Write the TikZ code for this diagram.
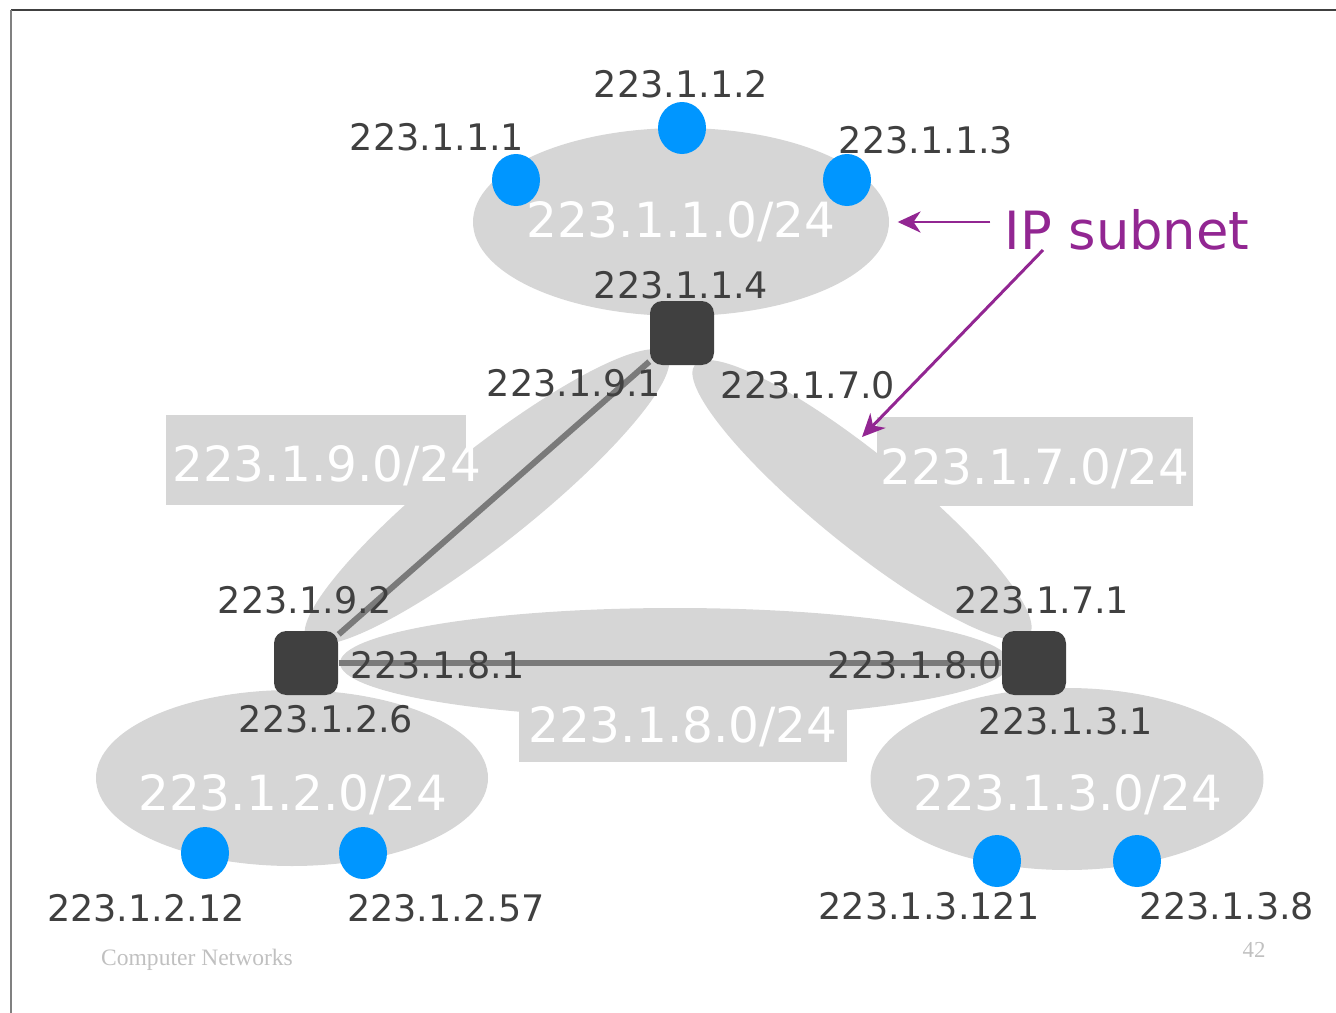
\documentclass[tikz,border=0pt]{standalone}
\usepackage{fontspec}
\setmainfont{DejaVu Sans}
\newfontfamily\footfont{Liberation Serif}
\usetikzlibrary{shapes.geometric,arrows.meta}

\definecolor{zonegray}{RGB}{214,214,214}
\definecolor{ipdark}{RGB}{64,64,64}
\definecolor{hostblue}{RGB}{0,150,255}
\definecolor{linkgray}{RGB}{122,122,122}
\definecolor{notepurple}{RGB}{146,38,146}
\definecolor{footgray}{RGB}{192,192,192}

\tikzset{
  zone/.style={ellipse, fill=zonegray, inner sep=0pt},
  router/.style={rectangle, rounded corners=3.5pt, fill=ipdark, minimum size=0.64cm, inner sep=0pt},
  host/.style={ellipse, fill=hostblue, minimum width=0.48cm, minimum height=0.52cm, inner sep=0pt},
  addr/.style={text=ipdark, font=\fontsize{10.4}{12}\selectfont, inner sep=1pt},
  netname/.style={text=white, font=\fontsize{13.8}{16}\selectfont, inner sep=1pt},
  link/.style={draw=linkgray, line width=1.7pt},
  notearrow/.style={draw=notepurple, line width=0.85pt, -{Stealth[length=6.5pt,width=6pt,inset=2pt]}},
}

\begin{document}
\begin{tikzpicture}[x=1cm, y=-1cm]
\useasboundingbox (0,0) rectangle (13.36,10.13);

% slide frame
\draw[ipdark, line width=0.6pt] (0.11,0.10) -- (13.36,0.10);
\draw[gray, line width=0.6pt] (0.11,0.10) -- (0.11,10.13);

% subnets
\node[zone, minimum width=4.16cm, minimum height=1.88cm] (net1) at (6.81,2.22) {};
\node[zone, minimum width=3.92cm, minimum height=1.76cm] (net2) at (2.92,7.78) {};
\node[zone, minimum width=3.93cm, minimum height=1.82cm] (net3) at (10.67,7.79) {};
\node[zone, minimum width=4.60cm, minimum height=0.94cm, rotate=38.5] (net9) at (4.87,4.97) {};
\node[zone, minimum width=4.30cm, minimum height=0.92cm, rotate=-39] (net7) at (8.62,5.00) {};
\node[zone, minimum width=6.70cm, minimum height=1.10cm] (net8) at (6.75,6.63) {};

% boxes behind the link subnet names
\fill[zonegray] (1.66,4.15) rectangle (4.66,5.05);
\fill[zonegray] (8.77,4.17) rectangle (11.93,5.06);
\fill[zonegray] (5.19,7.00) rectangle (8.47,7.62);

\node[netname] (name1) at (6.81,2.22) {223.1.1.0/24};
\node[netname] (name9) at (3.27,4.66) {223.1.9.0/24};
\node[netname] (name7) at (10.35,4.69) {223.1.7.0/24};
\node[netname] (name8) at (6.83,7.27) {223.1.8.0/24};
\node[netname] (name2) at (2.93,7.95) {223.1.2.0/24};
\node[netname] (name3) at (10.68,7.95) {223.1.3.0/24};

% routers and links
\node[router] (r1) at (6.82,3.33) {};
\node[router] (r2) at (3.06,6.63) {};
\node[router] (r3) at (10.34,6.63) {};
\draw[link] (r1) -- (r2);
\draw[link] (r2) -- (r3);

% hosts
\node[host] (h1) at (5.16,1.80) {};
\node[host] (h2) at (6.82,1.28) {};
\node[host] (h3) at (8.47,1.80) {};
\node[host] (h4) at (2.05,8.53) {};
\node[host] (h5) at (3.63,8.53) {};
\node[host] (h6) at (9.97,8.61) {};
\node[host] (h7) at (11.37,8.61) {};

% addresses
\node[addr] (a111) at (4.37,1.37) {223.1.1.1};
\node[addr] (a112) at (6.81,0.84) {223.1.1.2};
\node[addr] (a113) at (9.26,1.40) {223.1.1.3};
\node[addr] (a114) at (6.81,2.85) {223.1.1.4};
\node[addr] (a191) at (5.74,3.83) {223.1.9.1};
\node[addr] (a170) at (8.08,3.85) {223.1.7.0};
\node[addr] (a192) at (3.05,6.00) {223.1.9.2};
\node[addr] (a171) at (10.42,6.00) {223.1.7.1};
\node[addr] (a181) at (4.38,6.65) {223.1.8.1};
\node[addr] (a180) at (9.15,6.65) {223.1.8.0};
\node[addr] (a126) at (3.26,7.19) {223.1.2.6};
\node[addr] (a131) at (10.66,7.21) {223.1.3.1};
\node[addr] (a1212) at (1.46,9.08) {223.1.2.12};
\node[addr] (a1257) at (4.46,9.08) {223.1.2.57};
\node[addr] (a13121) at (9.29,9.06) {223.1.3.121};
\node[addr] (a138) at (12.27,9.06) {223.1.3.8};

% note
\node[text=notepurple, font=\fontsize{15}{18}\selectfont, inner sep=1pt] (ipnote) at (11.27,2.30) {IP subnet};
\coordinate (ipfoot) at (10.43,2.50);
\coordinate (zonetip) at (8.62,4.37);
\draw[notearrow] ([xshift=-0.1cm]ipnote.west |- net1.east) -- ([xshift=0.08cm]net1.east);
\draw[notearrow] (ipfoot) -- (zonetip);

% footer
\node[text=footgray, font=\footfont\fontsize{6.7}{8}\selectfont] (foot) at (1.97,9.60) {Computer Networks};
\node[text=footgray, font=\footfont\fontsize{6.5}{8}\selectfont] (page) at (12.54,9.50) {42};
\end{tikzpicture}
\end{document}
